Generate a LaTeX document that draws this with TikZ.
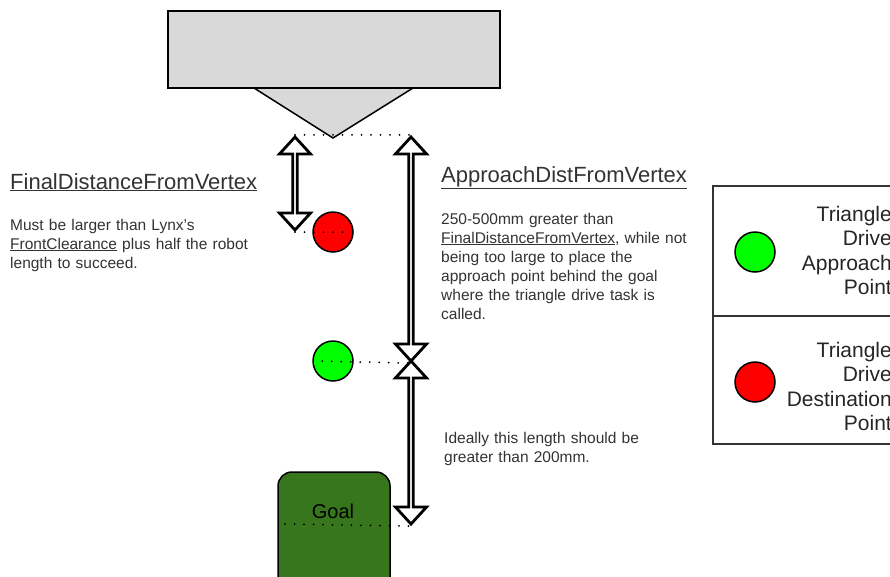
\documentclass[tikz,border=0pt]{standalone}
\usepackage{fontspec}
\setmainfont{Liberation Sans}
\usetikzlibrary{shapes,arrows,positioning}
\definecolor{robotgray}{HTML}{D9D9D9}
\definecolor{goalgreen}{HTML}{38761D}
\definecolor{textgray}{HTML}{333333}

\begin{document}
\begin{tikzpicture}[x=1pt, y=-1pt,
    dblarrow/.style={double arrow, draw=black, fill=white, line width=2.8pt, rotate=90, minimum width=31pt, double arrow head extend=8pt, double arrow tip angle=85, inner sep=0pt},
    dotline/.style={line width=2pt, line cap=round, dash pattern=on 0pt off 9.5pt},
    marker/.style={circle, draw=black, line width=1.5pt, minimum size=40pt, inner sep=0pt},
    headtext/.style={text=textgray, font=\fontsize{22}{26}\selectfont, inner sep=0pt},
    bodytext/.style={text=textgray, font=\fontsize{15.5}{19}\selectfont, inner sep=0pt, align=left, text width=270pt},
    legendtext/.style={text=black!85, font=\fontsize{21}{24.5}\selectfont, inner sep=0pt, align=right, text width=130pt}]
    \useasboundingbox (0,0) rectangle (890,576);
    \fill[white] (0,0) rectangle (890,576);

    % robot with its vertex
    \draw[fill=robotgray, line width=1.5pt] (254,88) -- (413,88) -- (333,138) -- cycle;
    \node[draw, fill=robotgray, line width=1.5pt, minimum width=332pt, minimum height=77pt, inner sep=0pt] (robot) at (334,49.5) {};
    \coordinate (vertex) at (333,138);

    % distance arrows
    \node[dblarrow, minimum height=93pt] (finalarrow) at (295,183.5) {};
    \node[dblarrow, minimum height=224pt] (approacharrow) at (411,249) {};
    \node[dblarrow, minimum height=163pt] (goalarrow) at (411,442.5) {};

    % points and goal
    \node[marker, fill=red] (destpoint) at (333,232) {};
    \node[marker, fill=green] (apppoint) at (333,361) {};
    \node[draw=black, fill=goalgreen, rounded corners=14pt, line width=1.5pt, minimum width=112pt, minimum height=120pt, inner sep=0pt] (goal) at (334,532) {};
    \node[font=\fontsize{20}{24}\selectfont] (goallabel) at (333,511) {Goal};
    \coordinate (goalline) at (285,524);

    % dotted reference lines
    \draw[dotline] (finalarrow.east) -- (approacharrow.east);
    \draw[dotline, shorten >=8pt] (finalarrow.west) -- (destpoint.east);
    \draw[dotline, shorten <=10pt] (apppoint.west) -- (approacharrow.west);
    \draw[dotline] (goalline) -- (goalarrow.west);

    % texts
    \node[headtext, anchor=base west] (finalhead) at (10,189) {\underline{FinalDistanceFromVertex}};
    \node[bodytext, anchor=base west] (finalbody) at (10,230) {Must be larger than Lynx's\\\underline{FrontClearance} plus half the robot\\length to succeed.};
    \node[headtext, anchor=base west] (approachhead) at (441,182) {\underline{ApproachDistFromVertex}};
    \node[bodytext, anchor=base west] (approachbody) at (441,224) {250-500mm greater than\\\underline{FinalDistanceFromVertex}, while not\\being too large to place the\\approach point behind the goal\\where the triangle drive task is\\called.};
    \node[bodytext, anchor=base west] (goalbody) at (444,443) {Ideally this length should be\\greater than 200mm.};

    % legend
    \draw[draw=black!80, line width=1.5pt] (713,186) rectangle (905,444);
    \draw[draw=black!80, line width=1.5pt] (713,316) -- (905,316);
    \node[marker, fill=green] (legapp) at (755,252) {};
    \node[marker, fill=red] (legdest) at (755,382) {};
    \node[legendtext, anchor=base east] (legapptext) at (892,221) {Triangle\\Drive\\Approach\\Point};
    \node[legendtext, anchor=base east] (legdesttext) at (892,357) {Triangle\\Drive\\Destination\\Point};
\end{tikzpicture}
\end{document}
